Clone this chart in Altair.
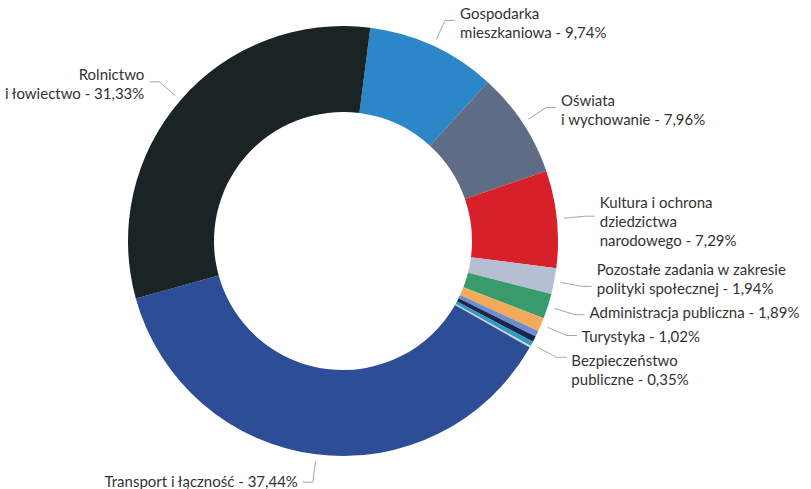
import math
import altair as alt
import pandas as pd

# ---- data ----
categories = [
    "Gospodarka mieszkaniowa",
    "Oświata i wychowanie",
    "Kultura i ochrona dziedzictwa narodowego",
    "Pozostałe zadania w zakresie polityki społecznej",
    "Administracja publiczna",
    "Turystyka",
    "Inne 1",
    "Inne 2",
    "Bezpieczeństwo publiczne",
    "Inne 3",
    "Transport i łączność",
    "Rolnictwo i łowiectwo",
]
values = [9.74, 7.96, 7.29, 1.94, 1.89, 1.02, 0.45, 0.45, 0.35, 0.14, 37.44, 31.33]
label_texts = [
    "Gospodarka\nmieszkaniowa - 9,74%",
    "Oświata\ni wychowanie - 7,96%",
    "Kultura i ochrona\ndziedzictwa\nnarodowego - 7,29%",
    "Pozostałe zadania w zakresie\npolityki społecznej - 1,94%",
    "Administracja publiczna - 1,89%",
    "Turystyka - 1,02%",
    "",
    "",
    "Bezpieczeństwo\npubliczne - 0,35%",
    "",
    "Transport i łączność - 37,44%",
    "Rolnictwo\ni łowiectwo - 31,33%",
]
colors = [
    "#2b87c8", "#5e6d85", "#d7202a", "#b4bfd3", "#399a6c", "#f4aa5b",
    "#6b8ed2", "#1b2550", "#2b9cc4", "#d9cfd3", "#2d4e96", "#1b2425",
]

# ---- layout ----
W, H = 811, 489
CX, CY = 343, 241
R_OUT, R_IN = 215, 129
START = math.radians(7.3)
R_LEAD0, R_ELBOW = 222, 243
HSEG, GAP, LH, SEP, K = 10, 5, 19, 5, 0.35
FONT_SIZE = 15

df = pd.DataFrame({"cat": categories, "value": values, "label": label_texts,
                   "idx": list(range(len(values)))})

donut = alt.Chart(df).mark_arc(outerRadius=R_OUT, innerRadius=R_IN).encode(
    theta=alt.Theta("value:Q", stack=True,
                    scale=alt.Scale(range=[START, START + 2 * math.pi])),
    order=alt.Order("idx:Q"),
    color=alt.Color("cat:N", scale=alt.Scale(domain=categories, range=colors), legend=None),
    x=alt.value(CX),
    y=alt.value(CY),
)

# label placement derived from the data (mid angle of every slice)
total = sum(values)
cum = 0.0
items = []
for v, t in zip(values, label_texts):
    mid = START + 2 * math.pi * (cum + v / 2) / total
    cum += v
    if not t:
        continue
    side = 1 if math.sin(mid) >= 0 else -1
    x0 = CX + R_LEAD0 * math.sin(mid)
    y0 = CY - R_LEAD0 * math.cos(mid)
    ny = CY - R_ELBOW * math.cos(mid)
    n = t.count("\n") + 1
    items.append(dict(text=t, side=side, x0=x0, y0=y0, ly=ny, n=n,
                      h=n * LH, want=ny - LH / 2 - (n - 1) * LH * K))

# distribute text blocks on each side (cluster merging, least squares)
for s in (1, -1):
    group = sorted([it for it in items if it["side"] == s], key=lambda d: d["ly"])
    clusters = []
    for it in group:
        clusters.append({"members": [it]})
        while True:
            c = clusters[-1]
            offs, acc = [], 0.0
            for m in c["members"]:
                offs.append(acc)
                acc += m["h"] + SEP
            c["top"] = sum(m["want"] - o for m, o in zip(c["members"], offs)) / len(offs)
            c["offs"], c["height"] = offs, acc - SEP
            if len(clusters) > 1:
                p = clusters[-2]
                if p["top"] + p["height"] + SEP > c["top"]:
                    p["members"] += c["members"]
                    clusters.pop()
                    continue
            break
    for c in clusters:
        for m, o in zip(c["members"], c["offs"]):
            m["top"] = c["top"] + o

segs, texts = [], []
for it in items:
    dy = it["ly"] - CY
    x1 = CX + it["side"] * math.sqrt(max(R_ELBOW ** 2 - dy ** 2, 0))
    x2 = x1 + it["side"] * HSEG
    segs.append(dict(x=it["x0"], y=it["y0"], x2=x1, y2=it["ly"]))
    segs.append(dict(x=x1, y=it["ly"], x2=x2, y2=it["ly"]))
    texts.append(dict(tx=x2 + it["side"] * GAP, ty=it["top"] + LH / 2,
                      text=it["text"], side=it["side"]))

seg_df = pd.DataFrame(segs)
txt_df = pd.DataFrame(texts)

leaders = alt.Chart(seg_df).mark_rule(color="#a6a6a6", strokeWidth=1).encode(
    x=alt.X("x:Q", scale=None, axis=None),
    y=alt.Y("y:Q", scale=None, axis=None),
    x2="x2:Q",
    y2="y2:Q",
)

def text_layer(side, align):
    return alt.Chart(txt_df).transform_filter(alt.datum.side == side).mark_text(
        align=align, baseline="middle", font="Lato", fontSize=FONT_SIZE,
        color="#333333", lineBreak="\n", lineHeight=LH,
    ).encode(
        x=alt.X("tx:Q", scale=None, axis=None),
        y=alt.Y("ty:Q", scale=None, axis=None),
        text="text:N",
    )

chart = alt.layer(donut, leaders, text_layer(1, "left"), text_layer(-1, "right")).properties(
    width=W, height=H, autosize="none", padding=0,
    background="white",
).configure_view(stroke=None)

chart.save("out.html", embed_options={"renderer": "svg", "actions": False})
